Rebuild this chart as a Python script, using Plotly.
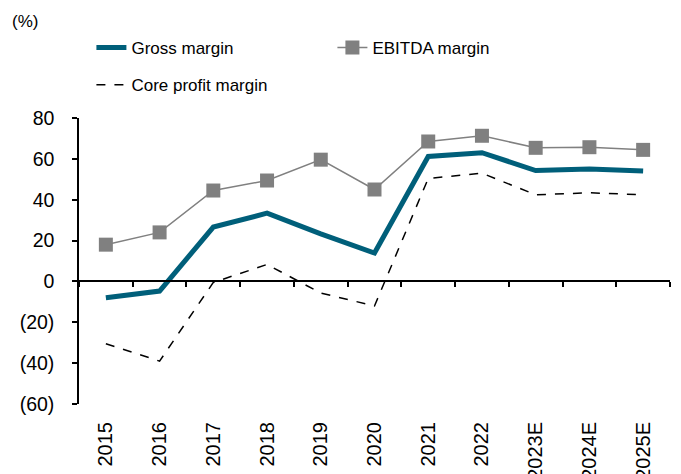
import plotly.graph_objects as go

# -------------------- Data --------------------
years = ["2015", "2016", "2017", "2018", "2019", "2020", "2021", "2022",
         "2023E", "2024E", "2025E"]
gross_margin = [-8.0, -4.7, 26.6, 33.4, 23.3, 13.9, 61.2, 63.0, 54.3, 55.0, 54.0]
ebitda_margin = [18.0, 24.0, 44.5, 49.4, 59.6, 45.0, 68.5, 71.3, 65.4, 65.7, 64.4]
core_margin = [-30.5, -39.0, -0.5, 8.3, -5.7, -12.0, 50.4, 53.0, 42.4, 43.4, 42.4]

y_ticks = [-60, -40, -20, 0, 20, 40, 60, 80]
y_ticktext = ["(60)", "(40)", "(20)", "0", "20", "40", "60", "80"]

FONT = "Liberation Sans, Arial, sans-serif"

fig = go.Figure()

fig.add_trace(go.Scatter(
    x=years, y=gross_margin, name="Gross margin", mode="lines",
    line=dict(color="#005F7A", width=5), legend="legend",
))
fig.add_trace(go.Scatter(
    x=years, y=ebitda_margin, name="EBITDA margin", mode="lines+markers",
    line=dict(color="#808080", width=1.5),
    marker=dict(symbol="square", size=14, color="#808080"),
    legend="legend",
))
fig.add_trace(go.Scatter(
    x=years, y=core_margin, name="Core profit margin", mode="lines",
    line=dict(color="black", width=1.5, dash="dash"), legend="legend2",
))
# empty trace so the zero-line category axis gets drawn
fig.add_trace(go.Scatter(x=[], y=[], xaxis="x2", showlegend=False,
                         hoverinfo="skip"))

n = len(years)
fig.update_layout(
    template="none",
    width=665, height=466,
    margin=dict(l=71, r=3, t=110, b=70, autoexpand=False),
    plot_bgcolor="white", paper_bgcolor="white",
    font=dict(family=FONT, size=19.5, color="black"),
    showlegend=True,
    legend=dict(orientation="h", x=0.021, y=1.245, xanchor="left", yanchor="middle",
                entrywidth=196, font=dict(size=17), bgcolor="rgba(0,0,0,0)"),
    legend2=dict(orientation="h", x=0.021, y=1.115, xanchor="left", yanchor="middle",
                 font=dict(size=17), bgcolor="rgba(0,0,0,0)"),
    xaxis=dict(
        type="category", range=[-0.5, n - 0.5], automargin=False,
        showline=False, ticks="", showgrid=False, zeroline=False,
        tickangle=-90, tickfont=dict(size=20), ticklabelstandoff=13,
    ),
    xaxis2=dict(
        overlaying="x", anchor="free", automargin=False,
        position=(0 - y_ticks[0]) / (y_ticks[-1] - y_ticks[0]),
        range=[-0.5, n - 0.5],
        tickvals=[i - 0.5 for i in range(n + 1)],
        showticklabels=False, ticks="outside", ticklen=5, tickwidth=1.5,
        tickcolor="black", showline=True, linecolor="black", linewidth=1.5,
        showgrid=False, zeroline=False,
    ),
    yaxis=dict(
        range=[y_ticks[0], y_ticks[-1]], automargin=False,
        tickvals=y_ticks, ticktext=y_ticktext,
        showline=True, linecolor="black", linewidth=1.5,
        ticks="outside", ticklen=5, tickwidth=1.5, tickcolor="black",
        showgrid=False, zeroline=False, tickfont=dict(size=19.5),
        ticklabelstandoff=14,
    ),
    annotations=[dict(text="(%)", xref="paper", yref="paper", x=-0.116, y=1.336,
                      xanchor="left", yanchor="middle", showarrow=False,
                      font=dict(size=17))],
)

fig.write_html("out.html")
